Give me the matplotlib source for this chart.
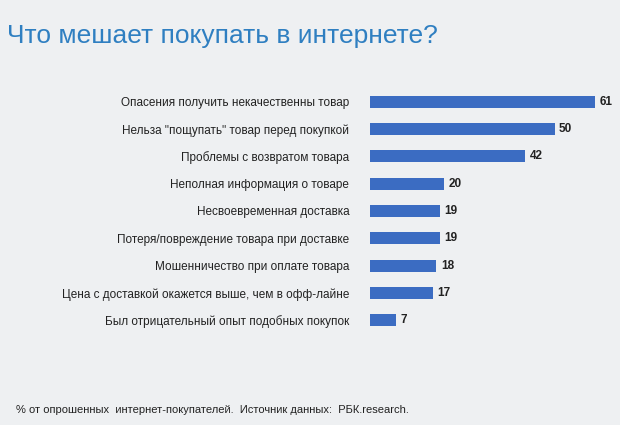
import matplotlib.pyplot as plt

# данные со слайда
categories = [
    "Опасения получить некачественны товар",
    "Нельза \"пощупать\" товар перед покупкой",
    "Проблемы с возвратом товара",
    "Неполная информация о товаре",
    "Несвоевременная доставка",
    "Потеря/повреждение товара при доставке",
    "Мошенничество при оплате товара",
    "Цена с доставкой окажется выше, чем в офф-лайне",
    "Был отрицательный опыт подобных покупок",
]
values = [61, 50, 42, 20, 19, 19, 18, 17, 7]

plt.rcParams['font.family'] = ['Liberation Sans', 'DejaVu Sans']

fig = plt.figure(figsize=(6.2, 4.25), dpi=100)
fig.patch.set_facecolor('#eef0f2')

ax = fig.add_axes([370 / 620, 1 - 334 / 425, 1 - 370 / 620, 246 / 425])
ax.set_facecolor('none')
ypos = list(range(len(values)))
ax.barh(ypos, values, height=0.45, color='#3b6cc2')
ax.set_xlim(0, 67.7)
ax.set_ylim(len(values) - 0.5, -0.5)
for i, v in enumerate(values):
    ax.text(v + 1.2, i, str(v), va='center', ha='left', fontsize=8.5,
            fontweight='bold', color='#222222')
ax.set_yticks(ypos)
ax.set_yticklabels(categories, fontsize=8.5, color='#222222')
ax.tick_params(axis='y', length=0, pad=15)
ax.set_xticks([])
for s in ax.spines.values():
    s.set_visible(False)

fig.text(0.012, 0.9, "Что мешает покупать в интернете?", fontsize=19,
         color='#2f7fc1', ha='left', va='baseline')
fig.text(0.025, 0.028, "% от опрошенных  интернет-покупателей.  Источник данных:  РБК.research.",
         fontsize=8, color='#222222', ha='left', va='baseline')

fig.savefig('out.png', dpi=100, facecolor=fig.get_facecolor())
